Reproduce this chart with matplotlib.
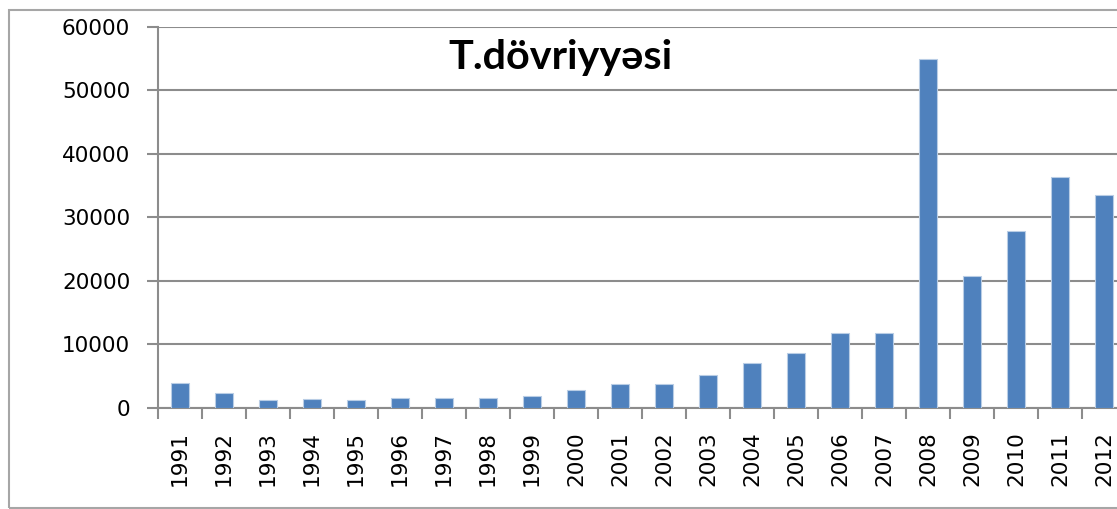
import matplotlib
matplotlib.use("Agg")
import matplotlib.pyplot as plt
from matplotlib.patches import Rectangle
import numpy as np

years = ["1991", "1992", "1993", "1994", "1995", "1996", "1997", "1998", "1999", "2000",
         "2001", "2002", "2003", "2004", "2005", "2006", "2007", "2008", "2009", "2010",
         "2011", "2012"]
values = [3970, 2380, 1270, 1380, 1220, 1540, 1520, 1590, 1900, 2810,
          3710, 3810, 5190, 7100, 8570, 11700, 11800, 54930, 20790, 27880,
          36300, 33550]
yticks = [0, 10000, 20000, 30000, 40000, 50000, 60000]
title = "T.dövriyyəsi"

W, H = 1117, 509
fig = plt.figure(figsize=(W / 100, H / 100), dpi=100)
fig.patch.set_facecolor("white")

# outer chart border
fig.patches.append(Rectangle((8.5 / W, 1 - 507.5 / H), (W + 20) / W, (507.5 - 9.5) / H,
                             transform=fig.transFigure, fill=False,
                             edgecolor="#a6a6a6", lw=1.5, zorder=0))

left, right = 158, 1126
top, bottom = 27, 407.7
ax = fig.add_axes([left / W, 1 - bottom / H, (right - left) / W, (bottom - top) / H])

x = np.arange(len(years))
ax.bar(x, values, width=0.4, color="#4F81BD", edgecolor="#b9cde5", linewidth=0.8, zorder=3)

ax.set_xlim(-0.5, len(years) - 0.5)
ax.set_ylim(0, 60000)
ax.set_yticks(yticks)
ax.set_yticklabels([str(v) for v in yticks], fontsize=15.5, family="DejaVu Sans")
ax.yaxis.grid(True, color="#8c8c8c", lw=1.5, zorder=0)
ax.set_axisbelow(True)

ax.set_xticks(x)
ax.set_xticklabels(years, rotation=90, fontsize=15.6, family="DejaVu Sans")
ax.set_xticks(np.arange(-0.5, len(years), 1.0), minor=True)
ax.tick_params(axis="x", which="major", length=0, pad=17)
ax.tick_params(axis="x", which="minor", length=8, width=1.5, color="#8c8c8c")
ax.tick_params(axis="y", length=8, width=1.5, color="#8c8c8c", pad=12)

for s in ["top", "right"]:
    ax.spines[s].set_visible(False)
for s in ["left", "bottom"]:
    ax.spines[s].set_color("#8c8c8c")
    ax.spines[s].set_linewidth(1.5)

fig.text(560 / W, 1 - 69 / H, title, fontsize=29.8, fontweight="bold", family="Lato",
         ha="center", va="baseline")

fig.savefig("out.png", dpi=100)
